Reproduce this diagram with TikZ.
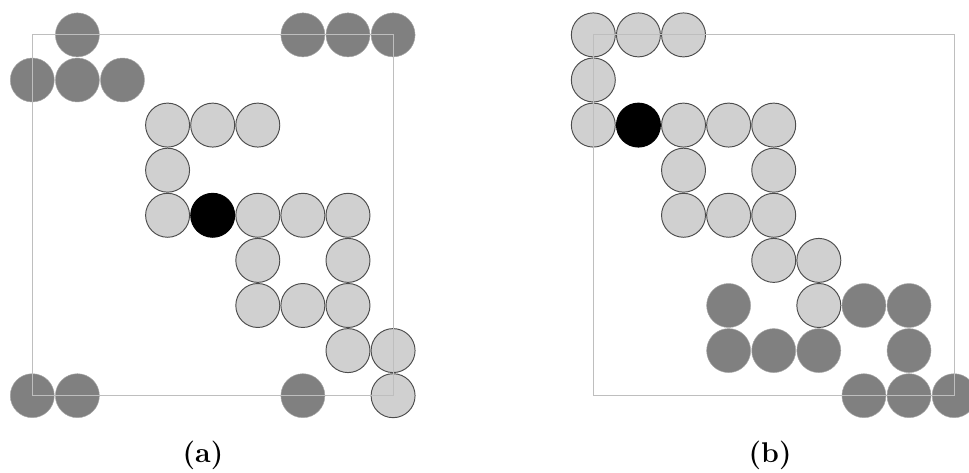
\documentclass[tikz,border=0pt]{standalone}
\usepackage{tikz}
\usetikzlibrary{positioning}
\definecolor{cellgrey}{HTML}{D0D0D0}
\definecolor{imagegrey}{HTML}{808080}
\definecolor{boxgrey}{HTML}{BEBEBE}

\begin{document}
\begin{tikzpicture}[
  disc/.style={circle, inner sep=0pt, minimum size=0.975cm},
  lite/.style={disc, fill=cellgrey, draw=black!70, line width=0.6pt},
  ghost/.style={disc, fill=imagegrey, draw=black!35, line width=0.3pt},
  seed/.style={disc, fill=black, draw=black, line width=0.6pt},
  cellbox/.style={draw=boxgrey, line width=0.6pt},
  lbl/.style={font=\fontsize{18}{22}\selectfont\bfseries, inner sep=0pt}
]
\useasboundingbox (-0.716,-1.692) rectangle (20.77,8.774);

% panel (a): periodic images
\foreach \x/\y in {1/8,6/8,7/8,8/8,0/7,1/7,2/7,0/0,1/0,6/0}
  \node[ghost] (a-g\x\y) at (\x,\y) {};
% panel (a): cluster
\foreach \x/\y in {3/6,4/6,5/6,3/5,3/4,5/4,6/4,7/4,5/3,7/3,5/2,6/2,7/2,7/1,8/1,8/0}
  \node[lite] (a-c\x\y) at (\x,\y) {};
\node[seed] (a-seed) at (4,4) {};
\draw[cellbox] (0,0) rectangle (8,8);
\node[lbl] (a-lbl) at (3.785,-1.33) {(a)};

% panel (b)
\begin{scope}[xshift=12.44cm]
\foreach \x/\y in {3/2,6/2,7/2,3/1,4/1,5/1,7/1,6/0,7/0,8/0}
  \node[ghost] (b-g\x\y) at (\x,\y) {};
\foreach \x/\y in {0/8,1/8,2/8,0/7,0/6,2/6,3/6,4/6,2/5,4/5,2/4,3/4,4/4,4/3,5/3,5/2}
  \node[lite] (b-c\x\y) at (\x,\y) {};
\node[seed] (b-seed) at (1,6) {};
\draw[cellbox] (0,0) rectangle (8,8);
\node[lbl] (b-lbl) at (3.92,-1.33) {(b)};
\end{scope}

\end{tikzpicture}
\end{document}
